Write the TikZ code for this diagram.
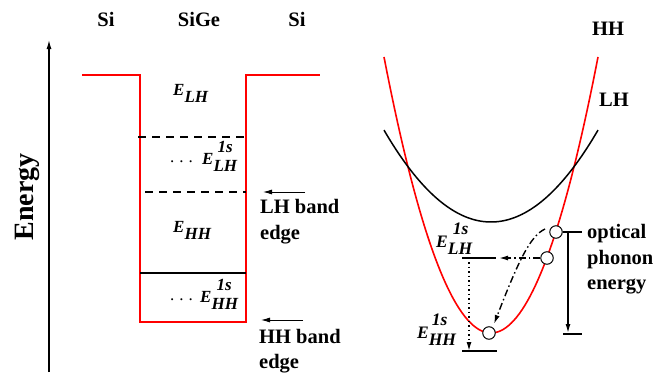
\documentclass[tikz,border=0pt]{standalone}
\usepackage{fontspec}
\setmainfont{Liberation Serif}
\usetikzlibrary{arrows.meta}
\newcommand\Esub[1]{\textbf{\textit{E\raisebox{-0.45em}{#1}}}}
\newcommand\Esup[2]{\textbf{\textit{E\raisebox{-0.45em}{\rlap{\hspace{#2}\raisebox{1.15em}{1s}}#1}}}}
\begin{document}
\begin{tikzpicture}[x=1pt,y=-1pt,
 ttl/.style={font=\fontsize{20.5}{24}\selectfont\bfseries, inner sep=0, anchor=base},
 txt/.style={font=\fontsize{20.5}{24}\selectfont\bfseries, inner sep=0, anchor=base west},
 elab/.style={font=\fontsize{17}{20}\selectfont, inner sep=0, anchor=base west},
 elabR/.style={font=\fontsize{17.5}{20}\selectfont, inner sep=0, anchor=base west},
 dotsl/.style={font=\fontsize{17}{20}\selectfont, inner sep=0, anchor=base west},
 well/.style={red, line width=1.6pt},
 lvl/.style={line width=1.4pt},
 arr/.style={-{Latex[length=9pt,width=5pt]}},
 dashdot/.style={dash pattern=on 7pt off 3pt on 1.5pt off 3pt},
 state/.style={circle, draw, fill=white, line width=1pt, minimum size=12.5pt, inner sep=0},
]
\useasboundingbox (0,0) rectangle (663,372);
% titles
\node[ttl] (si1) at (106,26) {Si};
\node[ttl] (sige) at (199,26) {SiGe};
\node[ttl] (si2) at (297,26) {Si};
\node[font=\fontsize{28}{32}\selectfont\bfseries, inner sep=0, anchor=base, rotate=90] (energy) at (33,197) {Energy};
% energy axis
\coordinate (axb) at (49,372);
\coordinate (axt) at (49,40);
\draw[arr, line width=1.2pt] (axb) -- (axt);
% well
\draw[well] (82,75) -- (140,75) -- (140,322) -- (246,322) -- (246,75) -- (320,75);
\draw[lvl, dash pattern=on 8pt off 6pt] (138,137) -- (246,137);
\draw[lvl, dash pattern=on 8pt off 6pt] (145,192) -- (246,192);
\draw[lvl] (140,273) -- (246,273);
% labels in well
\node[elab] (elh) at (173,95) {\Esub{LH}};
\node[dotsl] (d1) at (170,162) {.\hspace{5pt}.\hspace{5pt}.};
\node[elab] (elh1s) at (202,164) {\Esup{LH}{4pt}};
\node[elab] (ehh) at (173,232) {\Esub{HH}};
\node[dotsl] (d2) at (170,300) {.\hspace{5pt}.\hspace{5pt}.};
\node[elab] (ehh1s) at (200,302) {\Esup{HH}{5pt}};
% band edge arrows
\coordinate (lha) at (305,192);
\coordinate (lhb) at (263,192);
\draw[arr, line width=0.9pt] (lha) -- (lhb);
\node[txt] (lht1) at (260,213) {LH band};
\node[txt] (lht2) at (260,239) {edge};
\coordinate (hha) at (303,320);
\coordinate (hhb) at (261,320);
\draw[arr, line width=0.9pt] (hha) -- (hhb);
\node[txt] (hht1) at (259,343) {HH band};
\node[txt] (hht2) at (259,368) {edge};
% dispersion
\draw[red, line width=1.6pt] plot[domain=384:598, samples=80] (\x, {333-0.02411*(\x-491)*(\x-491)});
\draw[line width=1.5pt] plot[domain=384:598, samples=80] (\x, {222-0.00803*(\x-491)*(\x-491)});
\node[ttl] (hhl) at (608,35) {HH};
\node[ttl] (lhl) at (614,106) {LH};
% levels
\coordinate (l1a) at (462,258);
\coordinate (l1b) at (496,258);
\draw[lvl] (l1a) -- (l1b);
\coordinate (l2a) at (462,351);
\coordinate (l2b) at (497,351);
\draw[lvl] (l2a) -- (l2b);
\node[elabR] (relh) at (436,247) {\Esup{LH}{5pt}};
\node[elabR] (rehh) at (417,338) {\Esup{HH}{3pt}};
% dotted transition
\coordinate (dta) at (469,262);
\coordinate (dtb) at (469,351);
\draw[lvl, dash pattern=on 1.5pt off 3pt, arr] (dta) -- (dtb);
% states
\node[state] (c1) at (556,232) {};
\node[state] (c2) at (547,258) {};
\node[state] (c3) at (489,333) {};
\coordinate (hd) at (499,258);
\draw[lvl, dashdot, arr] (c2.west) -- (hd);
\coordinate (cs) at (545,229);
\coordinate (ce) at (494,324);
\draw[lvl, dashdot, arr] (cs) .. controls (530,236) and (518,262) .. (ce);
% optical phonon energy
\coordinate (t1) at (582,232);
\draw[lvl] (c1.east) -- (t1);
\coordinate (va) at (568,232);
\coordinate (vb) at (568,333);
\draw[lvl, arr] (va) -- (vb);
\coordinate (t2a) at (563,334);
\coordinate (t2b) at (582,334);
\draw[lvl] (t2a) -- (t2b);
\node[txt] (op1) at (587,238) {optical};
\node[txt] (op2) at (587,264) {phonon};
\node[txt] (op3) at (587,289) {energy};
\end{tikzpicture}
\end{document}
